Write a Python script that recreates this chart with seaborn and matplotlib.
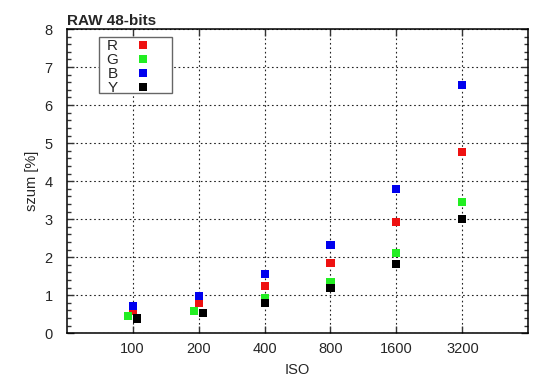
import matplotlib
matplotlib.use("Agg")
import matplotlib.pyplot as plt
from matplotlib.patches import Rectangle
from matplotlib.ticker import MultipleLocator, FixedLocator, NullLocator
import pandas as pd
import seaborn as sns

# ISO ticks and noise values (szum %) per channel
iso_ticks = [100, 200, 400, 800, 1600, 3200]
iso_r = [100, 200, 400, 800, 1600, 3200]
iso_g = [95, 190, 400, 800, 1600, 3200]
iso_b = [100, 200, 400, 800, 1600, 3200]
iso_y = [105, 210, 400, 800, 1600, 3200]
szum_r = [0.59, 0.80, 1.24, 1.85, 2.92, 4.77]
szum_g = [0.45, 0.58, 0.93, 1.34, 2.10, 3.46]
szum_b = [0.72, 0.99, 1.55, 2.31, 3.80, 6.52]
szum_y = [0.39, 0.53, 0.80, 1.18, 1.83, 3.01]
channels = ["R", "G", "B", "Y"]
colors = ["#ee1111", "#22ee22", "#0000ee", "#000000"]


def build_frame():
    parts = []
    for name, xs, ys in zip(channels, [iso_r, iso_g, iso_b, iso_y],
                            [szum_r, szum_g, szum_b, szum_y]):
        parts.append(pd.DataFrame({"iso": xs, "szum": ys, "kanal": name}))
    return pd.concat(parts, ignore_index=True)


def main():
    sns.set_theme(style="ticks")
    plt.rcParams["font.family"] = ["Liberation Sans", "DejaVu Sans"]

    df = build_frame()
    fig = plt.figure(figsize=(5.5, 3.89), dpi=100)
    ax = fig.add_axes([0.1213, 0.1432, 0.9606 - 0.1213, 0.9254 - 0.1432])

    sns.scatterplot(data=df, x="iso", y="szum", hue="kanal", hue_order=channels,
                    palette=dict(zip(channels, colors)), marker="s", s=34,
                    linewidth=0, ax=ax, zorder=3)

    ax.set_xscale("log", base=2)
    ax.set_xlim(50, 6400)
    ax.set_ylim(0, 8)
    ax.xaxis.set_major_locator(FixedLocator(iso_ticks))
    ax.xaxis.set_minor_locator(NullLocator())
    ax.set_xticklabels([str(v) for v in iso_ticks])
    ax.yaxis.set_major_locator(MultipleLocator(1))
    ax.yaxis.set_minor_locator(MultipleLocator(0.2))

    ax.tick_params(which="both", direction="in", top=True, right=True,
                   labelsize=10.5, color="#333333")
    ax.tick_params(axis="x", pad=6)
    ax.tick_params(axis="y", pad=10)
    ax.tick_params(which="major", length=5, width=1)
    ax.tick_params(which="minor", length=3, width=1)
    for sp in ax.spines.values():
        sp.set_linewidth(1.1)
        sp.set_color("black")

    ax.grid(which="major", color="#222222", linestyle=(0, (1.5, 2.5)), linewidth=0.8)

    ax.set_xlabel("ISO", fontsize=10.5, labelpad=5)
    ax.set_ylabel("szum [%]", fontsize=10.5, labelpad=4)
    ax.set_title("RAW 48-bits", loc="left", fontsize=11, fontweight="bold", pad=3)

    # gnuplot-style key: text then marker, inside a plain box
    handles, labels = ax.get_legend_handles_labels()
    leg = ax.legend(handles, labels, loc="upper left", bbox_to_anchor=(0.0851, 0.9671),
                    borderaxespad=0, markerfirst=False, fontsize=11, labelspacing=0.0,
                    handletextpad=0.15, handlelength=3.0, borderpad=0, frameon=False)
    leg.set_zorder(5)
    ax.add_patch(Rectangle((0.0706, 0.7897), 0.1568, 0.184, transform=ax.transAxes,
                           facecolor="white", edgecolor="#666666", linewidth=1.0,
                           zorder=4))

    fig.savefig("out.png", dpi=100)


if __name__ == "__main__":
    main()
